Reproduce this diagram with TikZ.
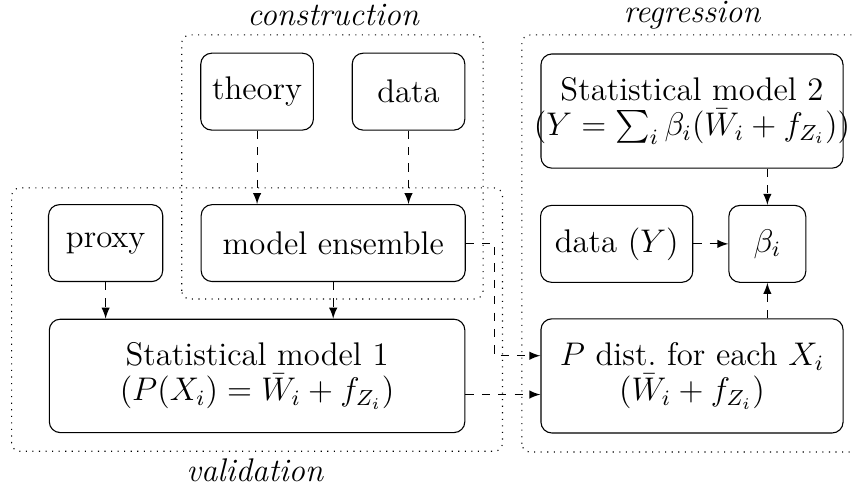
\documentclass[tikz,border=0pt]{standalone}
\usepackage{amsmath, amssymb}
\usepackage{tikz}

\begin{document}
\begin{tikzpicture}[font=\fontsize{12}{12.8}\selectfont,
    box/.style={draw, rounded corners=4pt, align=center, inner sep=1pt,
      minimum height=0.99cm},
    group/.style={draw, dotted, rounded corners=3pt},
    title/.style={inner sep=1pt, font=\fontsize{12}{12.8}\selectfont\itshape},
    link/.style={dashed, -latex}]
  \useasboundingbox (0,0) rectangle (10.97,6.23);

  % groups
  \draw[group] (2.34,2.38) rectangle (6.22,5.78);
  \draw[group] (0.15,0.42) rectangle (6.47,3.81);
  \draw[group] (6.72,0.41) rectangle (11.3,5.78);
  \node (constr) at (4.29,6.04) [title] {construction};
  \node (regr) at (8.91,6.04) [title] {regression};
  \node (valid) at (3.28,0.18) [title] {validation};

  % left part
  \node (theory) at (3.31,5.05) [box, minimum width=1.45cm] {theory};
  \node (data) at (5.26,5.05) [box, minimum width=1.45cm] {data};
  \node (proxy) at (1.36,3.10) [box, minimum width=1.47cm] {proxy};
  \node (ens) at (4.29,3.10) [box, minimum width=3.40cm] {model ensemble};
  \node (stat1) at (3.31,1.39) [box, minimum width=5.35cm, minimum height=1.46cm]
    {Statistical model 1\\$(P(X_i) = \bar{W}_i + f_{Z_i})$};

  % right part
  \node (stat2) at (8.91,4.80) [box, minimum width=3.89cm, minimum height=1.47cm]
    {Statistical model 2\\\makebox[3.8cm]{$(Y = \sum_i \beta_i(\bar{W}_i + f_{Z_i}))$}};
  \node (dataY) at (7.94,3.09) [box, minimum width=1.96cm] {data $(Y)$};
  \node (beta) at (9.88,3.09) [box, minimum width=0.99cm] {$\beta_i$};
  \node (pdist) at (8.91,1.39) [box, minimum width=3.89cm, minimum height=1.47cm]
    {$P$ dist.\ for each $X_i$\\$(\bar{W}_i + f_{Z_i})$};

  \draw[link] (theory) to (theory |- ens.north);
  \draw[link] (data) to (data |- ens.north);
  \draw[link] (proxy) to (proxy |- stat1.north);
  \draw[link] (ens) to (ens |- stat1.north);
  \draw[link] (ens.east) -- ++(0.37,0) |- ([yshift=0.26cm]pdist.west);
  \draw[link] ([yshift=-0.24cm]stat1.east) to ([yshift=-0.24cm]pdist.west);
  \draw[link] (stat2.south -| beta) to (beta);
  \draw[link] (pdist.north -| beta) to (beta);
  \draw[link] (dataY) to (beta);
\end{tikzpicture}
\end{document}
